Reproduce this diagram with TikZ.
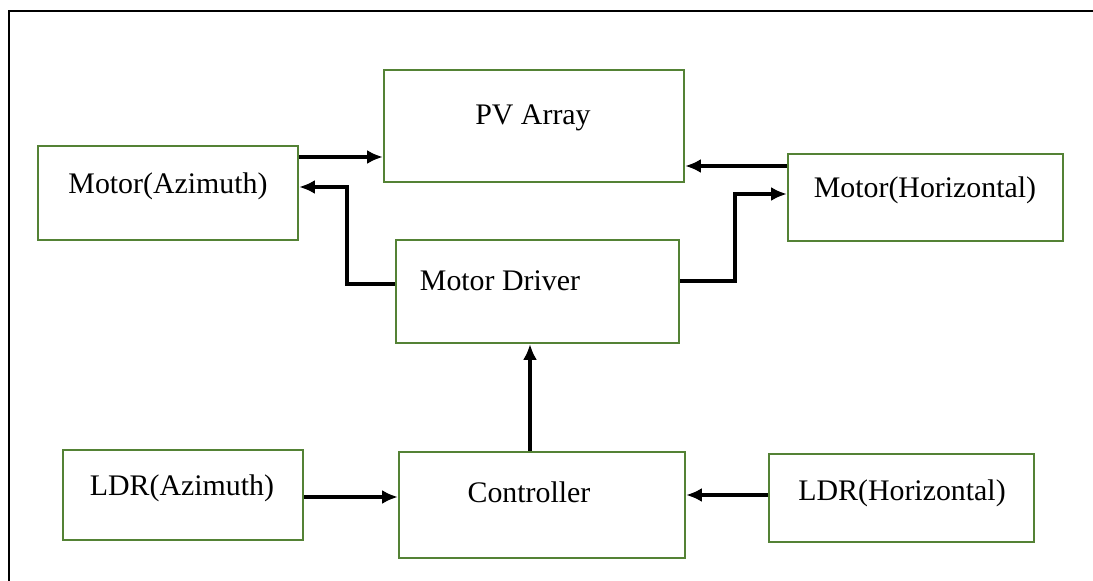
\documentclass[tikz,border=0pt]{standalone}
\usepackage{fontspec}
\setmainfont{Liberation Serif}
\usetikzlibrary{arrows.meta,positioning,calc,fit}
\definecolor{boxgreen}{HTML}{548235}

\begin{document}
\begin{tikzpicture}[x=0.02cm,y=-0.02cm,>={Latex[length=9pt,width=8pt]},
    blk/.style={draw=boxgreen,line width=1.3pt,inner sep=0pt},
    lbl/.style={anchor=base,inner sep=0pt,font=\fontsize{17}{20}\selectfont},
    arr/.style={->,line width=2.1pt}]
    \useasboundingbox (0,0) rectangle (1093,581);
    \draw[line width=1.2pt] (9,581) -- (9,11) -- (1093,11);
    % blocks
    \node[blk,fit={(384,70) (684,182)}] (pv) {};
    \node[blk,fit={(38,146) (298,240)}] (maz) {};
    \node[blk,fit={(788,154) (1063,241)}] (mhor) {};
    \node[blk,fit={(396,240) (679,343)}] (drv) {};
    \node[blk,fit={(63,450) (303,540)}] (ldraz) {};
    \node[blk,fit={(399,452) (685,558)}] (ctrl) {};
    \node[blk,fit={(769,454) (1034,542)}] (ldrhor) {};
    % texts
    \node[lbl] (pvT) at (533,125) {PV Array};
    \node[lbl] (mazT) at (168,194) {Motor(Azimuth)};
    \node[lbl] (mhorT) at (925,197) {Motor(Horizontal)};
    \node[lbl] (drvT) at (500,291) {Motor Driver};
    \node[lbl] (ldrazT) at (182,495) {LDR(Azimuth)};
    \node[lbl] (ctrlT) at (529,502) {Controller};
    \node[lbl] (ldrhorT) at (902,500) {LDR(Horizontal)};
    % connections
    \draw[arr] (maz.east |- 0,157) -- (pv.west |- 0,157);
    \draw[arr] (mhor.west |- 0,166) -- (pv.east |- 0,166);
    \draw[arr] (drv.west |- 0,284) -| (347,187) -- (maz.east |- 0,187);
    \draw[arr] (drv.east |- 0,281) -| (735,194) -- (mhor.west |- 0,194);
    \draw[arr] (ctrl.north -| 530,0) -- (drv.south -| 530,0);
    \draw[arr] (ldraz.east |- 0,497) -- (ctrl.west |- 0,497);
    \draw[arr] (ldrhor.west |- 0,495) -- (ctrl.east |- 0,495);
\end{tikzpicture}
\end{document}
